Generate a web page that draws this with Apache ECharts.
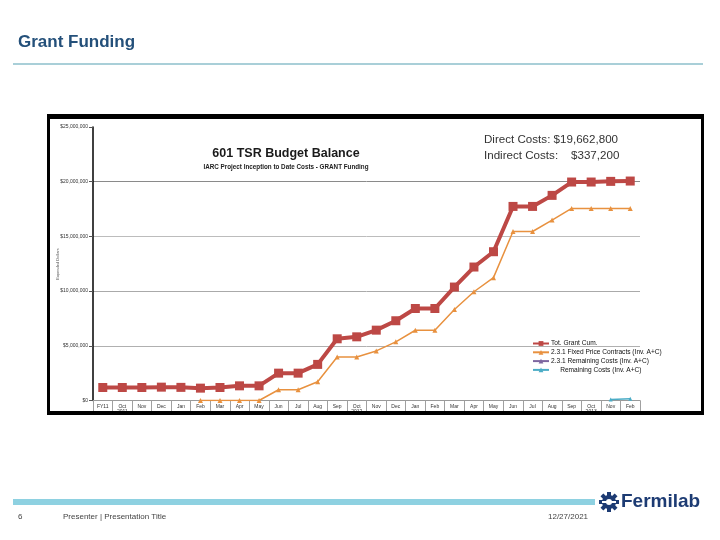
<!DOCTYPE html>
<html>
<head>
<meta charset="utf-8">
<script src="https://cdn.jsdelivr.net/npm/echarts@6/dist/echarts.min.js"></script>
<style>
html,body{margin:0;padding:0;background:#fff;}
#c{width:720px;height:540px;}
</style>
</head>
<body>
<div id="c"></div>
<script>
var categories = ['FY11','Oct\n2011','Nov','Dec','Jan','Feb','Mar','Apr','May','Jun','Jul','Aug','Sep','Oct\n2012','Nov','Dec','Jan','Feb','Mar','Apr','May','Jun','Jul','Aug','Sep','Oct\n2013','Nov','Feb'];
var totGrantCum = [1190000,1190000,1190000,1220000,1200000,1130000,1190000,1340000,1340000,2500000,2500000,3300000,5640000,5820000,6430000,7290000,8410000,8410000,10370000,12200000,13600000,17740000,17740000,18750000,19970000,19970000,20030000,20060000];
var fixedPriceContracts = [null,null,null,null,null,0,0,0,0,980000,980000,1720000,3980000,3980000,4530000,5360000,6420000,6420000,8320000,9940000,11230000,15450000,15450000,16490000,17560000,17560000,17560000,17560000];
var remaining231 = [null,null,null,null,null,null,null,null,null,null,null,null,null,null,null,null,null,null,null,null,null,null,null,null,null,null,null,null];
var remainingCosts = [null,null,null,null,null,null,null,null,null,null,null,null,null,null,null,null,null,null,null,null,null,null,null,null,null,null,100000,150000];
var seriesNames = ['Tot. Grant Cum.','2.3.1 Fixed Price Contracts (Inv. A+C)','2.3.1 Remaining Costs (Inv. A+C)','     Remaining Costs (Inv. A+C)'];
var yTicks = {min:0, max:25000000, interval:5000000};

var chart = echarts.init(document.getElementById('c'), null, {renderer:'canvas'});

function fmtDollar(v){
  if (v === 0) return '$0';
  return '$' + String(v).replace(/\B(?=(\d{3})+(?!\d))/g, ',');
}

var teeth = [];
for (var k = 0; k < 8; k++) {
  teeth.push({
    type:'rect', x:609, y:502, originX:0, originY:0, rotation: k*Math.PI/4,
    shape:{x:-2, y:-10, width:4, height:5},
    style:{fill:'#1d3b73'}
  });
}

var option = {
  backgroundColor:'#ffffff',
  animation:false,
  grid:{left:93, right:80, top:127, bottom:139.5, containLabel:false},
  legend:{
    orient:'vertical', left:532, top:340, itemWidth:16, itemHeight:6, itemGap:1.8, padding:0,
    textStyle:{fontSize:6.6, color:'#111', fontFamily:'Liberation Sans, Arial', lineHeight:6, padding:[0,0,0,-3]},
    data:seriesNames
  },
  xAxis:{
    type:'category', data:categories, boundaryGap:true,
    axisLine:{lineStyle:{color:'#9a9a9a', width:1}},
    axisTick:{show:true, interval:0, length:13, lineStyle:{color:'#a0a0a0'}},
    axisLabel:{interval:0, fontSize:5, color:'#333', margin:4, lineHeight:5, fontFamily:'Liberation Sans, Arial'}
  },
  yAxis:{
    type:'value', min:yTicks.min, max:yTicks.max, interval:yTicks.interval,
    name:'Expended Dollars', nameLocation:'middle', nameGap:36, nameRotate:90,
    nameTextStyle:{fontSize:4, color:'#555', padding:[0,0,0,0]},
    axisLine:{show:true, lineStyle:{color:'#000', width:1.5}},
    axisTick:{show:true, length:4, lineStyle:{color:'#555'}},
    axisLabel:{formatter:fmtDollar, fontSize:5, color:'#333', margin:5, fontFamily:'Liberation Sans, Arial'},
    splitLine:{show:true, showMaxLine:false, lineStyle:{color:['#aaaaaa','#b0b0b0','#aaaaaa','#bcbcbc','#8a8a8a','#ffffff'], width:1}}
  },
  series:[
    {name:seriesNames[0], type:'line', data:totGrantCum, symbol:'rect', symbolSize:9,
     lineStyle:{color:'#bd4845', width:4}, itemStyle:{color:'#bd4845'}, z:3},
    {name:seriesNames[1], type:'line', data:fixedPriceContracts, symbol:'triangle', symbolSize:5,
     lineStyle:{color:'#e8913f', width:1.5}, itemStyle:{color:'#e8913f'}, z:4},
    {name:seriesNames[2], type:'line', data:remaining231, symbol:'triangle', symbolSize:5,
     lineStyle:{color:'#7d66a0', width:1.5}, itemStyle:{color:'#7d66a0'}},
    {name:seriesNames[3], type:'line', data:remainingCosts, symbol:'triangle', symbolSize:4,
     lineStyle:{color:'#4bacc6', width:1.5}, itemStyle:{color:'#4bacc6'}}
  ],
  graphic:[
    {type:'text', left:18, top:34, style:{text:'Grant Funding', fontSize:17, fontWeight:'bold', fill:'#24507a', fontFamily:'Liberation Sans, Arial'}},
    {type:'rect', shape:{x:13, y:63, width:690, height:2}, style:{fill:'#a9cfd8'}},
    {type:'rect', z:100, shape:{x:48, y:114, width:656, height:5}, style:{fill:'#000'}},
    {type:'rect', z:100, shape:{x:48, y:411, width:656, height:4}, style:{fill:'#000'}},
    {type:'rect', z:100, shape:{x:47, y:114, width:3, height:301}, style:{fill:'#000'}},
    {type:'rect', z:100, shape:{x:701, y:114, width:3, height:301}, style:{fill:'#000'}},
    {type:'text', x:58, y:264, rotation:Math.PI/2, style:{text:'Expended Dollars', fontSize:4, fill:'#555', align:'center', verticalAlign:'middle'}},
    {type:'text', x:286, y:154, style:{text:'601 TSR Budget Balance', fontSize:12.5, fontWeight:'bold', fill:'#1a1a1a', align:'center', verticalAlign:'middle', fontFamily:'Liberation Sans, Arial'}},
    {type:'text', x:286, y:167, style:{text:'IARC Project Inception to Date Costs - GRANT Funding', fontSize:6.3, fontWeight:'bold', fill:'#222', align:'center', verticalAlign:'middle', fontFamily:'Liberation Sans, Arial'}},
    {type:'text', x:484, y:140, style:{text:'Direct Costs: $19,662,800', fontSize:11.6, fill:'#333', verticalAlign:'middle', fontFamily:'Liberation Sans Narrow, Liberation Sans, Arial'}},
    {type:'text', x:484, y:156, style:{text:'Indirect Costs:    $337,200', fontSize:11.6, fill:'#333', verticalAlign:'middle', fontFamily:'Liberation Sans Narrow, Liberation Sans, Arial'}},
    {type:'rect', shape:{x:13, y:499, width:582, height:6}, style:{fill:'#8ed1e1'}},
    {type:'text', x:18, y:517, style:{text:'6', fontSize:8, fill:'#444', verticalAlign:'middle', fontFamily:'Liberation Sans Narrow, Liberation Sans, Arial'}},
    {type:'text', x:63, y:517, style:{text:'Presenter | Presentation Title', fontSize:8, fill:'#444', verticalAlign:'middle', fontFamily:'Liberation Sans Narrow, Liberation Sans, Arial'}},
    {type:'text', x:548, y:517, style:{text:'12/27/2021', fontSize:8, fill:'#444', verticalAlign:'middle', fontFamily:'Liberation Sans Narrow, Liberation Sans, Arial'}},
    {type:'group', children: teeth.concat([
      {type:'circle', shape:{cx:609, cy:502, r:7}, style:{fill:'#1d3b73'}},
      {type:'circle', shape:{cx:609, cy:502, r:3}, style:{fill:'#fff'}},
      {type:'rect', shape:{x:602, y:501, width:14, height:2}, style:{fill:'#fff'}}
    ])},
    {type:'text', x:621, y:502, style:{text:'Fermilab', fontSize:19, fontWeight:'bold', fill:'#1d3b73', verticalAlign:'middle', fontFamily:'Liberation Sans, Arial'}}
  ]
};
option.yAxis.name = '';
chart.setOption(option);
</script>
</body>
</html>
